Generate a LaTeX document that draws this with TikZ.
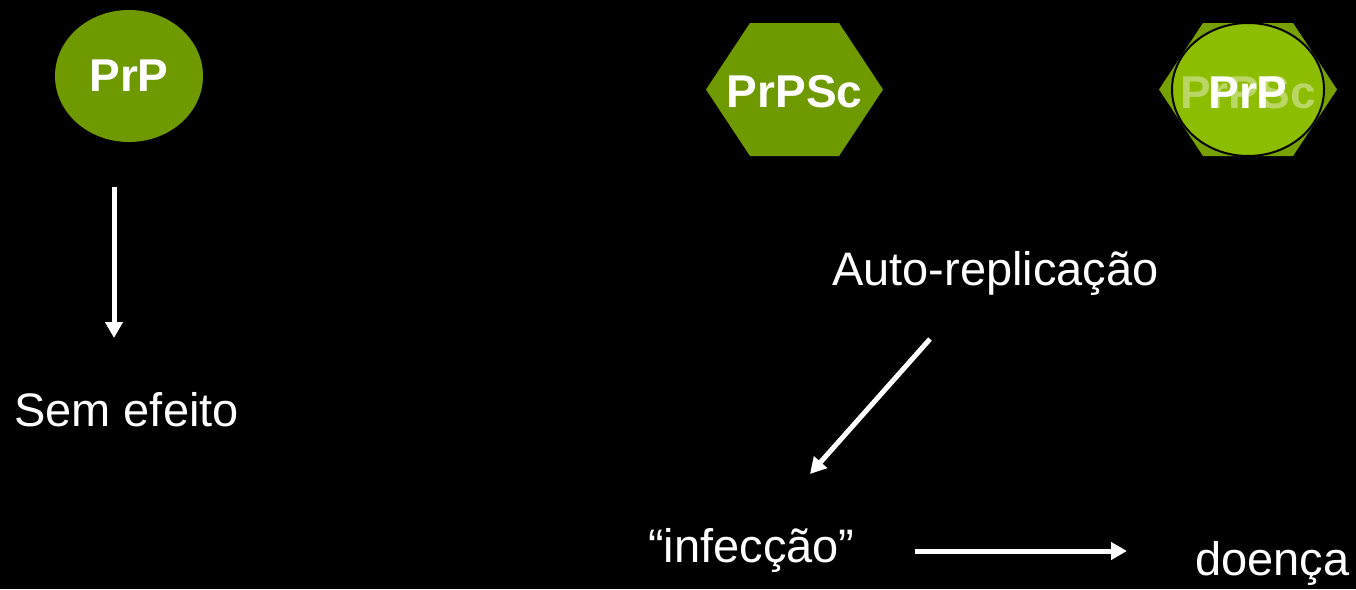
\documentclass[tikz,border=0pt]{standalone}
\usepackage{fontspec}
\setmainfont{Liberation Sans}
\usetikzlibrary{arrows.meta}
\definecolor{prpgreen}{HTML}{6E9A00}
\definecolor{hexgreen}{HTML}{76A100}
\definecolor{limegreen}{HTML}{8DBD00}
\tikzset{
  label/.style={text=white, inner sep=0pt, font=\fontsize{47}{56}\selectfont},
  tag/.style={text=white, inner sep=0pt, font=\fontsize{46}{55}\selectfont\bfseries},
  flow/.style={white, line width=5pt, -{Triangle[length=16pt,width=17pt]}}
}
\begin{document}
\begin{tikzpicture}[x=1pt,y=-1pt]
    \fill[black] (0,0) rectangle (1356,589);
    \useasboundingbox (0,0) rectangle (1356,589);

    \coordinate (A) at (114,187);
    \coordinate (B) at (114,338);
    \coordinate (C) at (930,339);
    \coordinate (D) at (810,474);
    \coordinate (E) at (915,551);
    \coordinate (F) at (1127,551);

    \fill[prpgreen] (129,76) ellipse [x radius=74, y radius=66];

    \fill[prpgreen] (706,89.5) -- (750,23) -- (839,23) -- (883,89.5)
      -- (839,156) -- (750,156) -- cycle;

    \fill[hexgreen] (1159,89.5) -- (1203,23) -- (1293,23) -- (1337,89.5)
      -- (1293,156) -- (1203,156) -- cycle;
    \filldraw[fill=limegreen, draw=black, line width=2pt] (1248,89.5)
      ellipse [x radius=76, y radius=66.5];

    \draw[flow] (A) -- (B);
    \draw[flow] (C) -- (D);
    \draw[flow] (E) -- (F);

    \node[tag] (prp) at (129,76) {PrP};
    \node[tag] (prpsc) at (794.5,92) {PrPSc};
    \node[tag, text opacity=0.4] (ghost) at (1248,93) {PrPSc};
    \node[tag] (prp2) at (1248,93) {PrP};

    \node[label, anchor=base west] (sem) at (14,426) {Sem efeito};
    \node[label, anchor=base west] (auto) at (832,285) {Auto-replicação};
    \node[label, anchor=base west] (infec) at (648,562) {“infecção”};
    \node[label, anchor=base west] (doenca) at (1195,575) {doença};
  \end{tikzpicture}
\end{document}
